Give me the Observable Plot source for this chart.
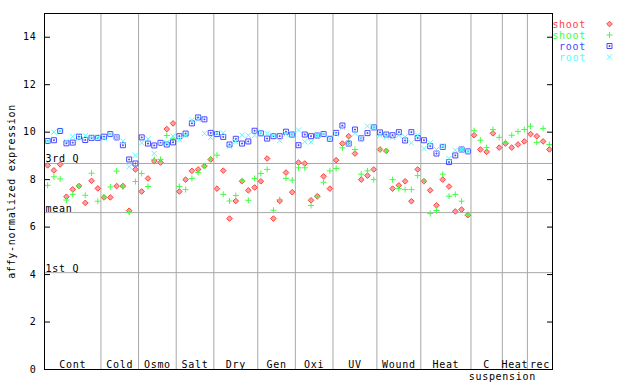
<!DOCTYPE html>
<html><head><meta charset="utf-8">
<script src="https://cdn.jsdelivr.net/npm/d3@7"></script>
<script src="https://cdn.jsdelivr.net/npm/@observablehq/plot@0.6"></script>
<style>
html,body{margin:0;padding:0;background:#fff;}
#chart svg{display:block;}
#chart svg text{letter-spacing:0.7px;}
</style></head><body><div id="chart"></div>
<script>
// ---- data ----
const groups = ["Cont","Cold","Osmo","Salt","Dry","Gen","Oxi","UV","Wound","Heat","C","Heat","rec"];
const groupSizes = [9,6,6,6,7,6,6,7,7,8,5,4,4];
const secondLineLabel = "suspension";   // second line under the "C" group, centred on its right boundary
const secondLineAfterGroup = 10;
const yTicks = [0,2,4,6,8,10,12,14];
const refNames = ["3rd Q","mean","1st Q"];
const refValues = [8.68, 6.61, 4.08];
const yLabel = "affy-normalized expression";

const shootRed = [8.60, 8.39, 8.64, 7.28, 7.59, 7.73, 7.02, 7.95, 7.63,
  7.25, 7.25, 7.73, 7.73, 6.69, 8.43,
  7.50, 8.05, 8.78, 8.72, 10.13, 10.37,
  7.50, 8.00, 8.37, 8.43, 8.57, 8.85,
  7.62, 8.38, 6.36, 7.10, 7.93, 7.55, 7.67,
  7.93, 8.89, 6.36, 7.10, 8.30, 7.47,
  8.72, 8.68, 7.13, 7.30, 8.14, 7.62,
  8.82, 9.52, 9.83, 9.10, 8.00, 8.17, 8.43,
  9.27, 9.21, 7.62, 7.76, 7.93, 7.09, 8.43,
  7.93, 7.55, 6.92, 8.00, 7.71, 6.66, 6.74, 6.50,
  9.87, 9.27, 9.17, 9.95, 9.35,
  9.52, 9.35, 9.48, 9.61,
  9.92, 9.83, 9.61, 9.27];
const shootGreen = [7.76, 8.12, 8.03, 7.14, 7.38, 7.72, 7.34, 8.27, 7.09,
  7.27, 7.69, 8.36, 7.69, 6.62, 7.92,
  8.26, 7.71, 8.85, 8.85, 9.86, 9.72,
  7.71, 7.58, 8.05, 8.30, 8.58, 8.86,
  9.03, 7.38, 7.10, 7.33, 7.95, 7.13, 8.05,
  8.26, 8.43, 6.71, 7.16, 8.05, 7.98,
  8.50, 8.50, 6.91, 7.27, 7.89, 8.37,
  8.47, 9.34, 9.60, 9.27, 8.23, 8.37, 8.00,
  9.27, 9.20, 8.00, 7.62, 7.58, 7.58, 8.17,
  7.93, 6.57, 6.70, 8.23, 7.30, 7.38, 7.09, 6.54,
  10.06, 9.66, 9.35, 10.11, 9.78,
  9.57, 9.87, 10.03, 10.11,
  10.25, 9.57, 10.16, 9.48];
const rootBlue = [9.63, 9.66, 10.05, 9.53, 9.56, 9.81, 9.67, 9.76, 9.76,
  9.81, 9.92, 9.78, 9.45, 8.85, 8.68,
  9.78, 9.52, 9.44, 9.55, 9.48, 9.57,
  9.83, 9.94, 10.37, 10.62, 10.54, 9.97,
  9.92, 9.80, 9.48, 9.72, 9.52, 9.61, 10.06,
  9.95, 9.73, 9.83, 9.83, 10.02, 9.90,
  9.45, 9.90, 9.83, 9.86, 9.92, 9.72,
  9.97, 10.28, 9.52, 10.11, 9.74, 9.96, 10.20,
  9.99, 9.90, 9.87, 10.00, 9.65, 10.00, 9.75,
  9.66, 9.41, 9.10, 9.38, 8.74, 9.02, 9.27, 9.19];
const rootCyan = [9.62, 10.00, 10.05, 9.62, 9.82, 9.75, 9.85, 9.80, 9.78,
  9.75, 9.92, 9.78, 9.62, 8.55, 9.03,
  9.55, 9.72, 9.10, 9.52, 9.56, 9.83,
  9.69, 9.87, 10.51, 10.54, 9.95, 9.78,
  9.95, 9.97, 9.41, 9.60, 9.87, 9.87, 9.87,
  9.97, 9.95, 9.87, 9.64, 9.92, 9.90,
  10.09, 9.60, 9.59, 9.86, 9.92, 9.72,
  9.93, 10.20, 9.52, 9.95, 9.73, 10.25, 10.20,
  9.87, 9.80, 9.78, 9.87, 9.80, 9.55, 9.87,
  9.31, 9.55, 9.27, 9.41, 8.89, 9.24, 9.27, 9.19];

const legendNames = ["shoot","shoot","root","root"];

// ---- derived tables ----
const N = d3.sum(groupSizes);
const starts = []; let acc = 0;
for (const s of groupSizes) { starts.push(acc); acc += s; }
const boundaries = starts.slice(1);
const groupLabels = groups.map((g, k) => ({name: g, center: starts[k] + groupSizes[k] / 2}));
const secondLine = [{name: secondLineLabel, at: starts[secondLineAfterGroup + 1]}];
const refs = refNames.map((n, k) => ({name: n, value: refValues[k]}));
const pts = arr => arr.map((v, i) => ({x: i + 0.5, y: v}));

// ---- symbols ----
const symDiamond = {draw(c){ const r = 2.8; c.moveTo(0,-r); c.lineTo(r,0); c.lineTo(0,r); c.lineTo(-r,0); c.closePath(); }};
const symPlus = {draw(c){ const r = 3; c.moveTo(-r,0); c.lineTo(r,0); c.moveTo(0,-r); c.lineTo(0,r); }};
const symSquare = {draw(c){ const r = 2.5; c.moveTo(-r,-r); c.lineTo(r,-r); c.lineTo(r,r); c.lineTo(-r,r); c.closePath(); c.moveTo(-0.5,-0.5); c.lineTo(0.5,-0.5); c.lineTo(0.5,0.5); c.lineTo(-0.5,0.5); c.closePath(); }};
const symTimes = {draw(c){ const r = 2.6; c.moveTo(-r,-r); c.lineTo(r,r); c.moveTo(-r,r); c.lineTo(r,-r); }};

const series = [
  {data: shootRed, sym: symDiamond, stroke: "#ff4040", fill: "#ffa0a0"},
  {data: shootGreen, sym: symPlus, stroke: "#40ff40", fill: "none"},
  {data: rootBlue, sym: symSquare, stroke: "#4848ff", fill: "none"},
  {data: rootCyan, sym: symTimes, stroke: "#50ffff", fill: "none"}
];

const grid = "#a8a8a8";
const chart = Plot.plot({
  width: 640, height: 384,
  marginLeft: 44, marginRight: 88, marginTop: 13, marginBottom: 15,
  x: {domain: [0, N], axis: null},
  y: {domain: [0, 15], axis: null},
  style: {fontFamily: "DejaVu Sans Mono", fontSize: "10px", background: "white", color: "black", overflow: "visible"},
  marks: [
    Plot.ruleX(boundaries, {stroke: grid, strokeWidth: 1}),
    Plot.ruleY(refs, {y: "value", stroke: grid, strokeWidth: 1}),
    Plot.text(refs, {y: "value", text: "name", frameAnchor: "left", textAnchor: "start", lineAnchor: "bottom", dx: 1, dy: -1, fill: "black"}),
    Plot.text(groupLabels, {x: "center", text: "name", frameAnchor: "bottom", lineAnchor: "bottom", dy: -2, fill: "black"}),
    Plot.text(secondLine, {x: "at", text: "name", frameAnchor: "bottom", lineAnchor: "top", dy: 3, fill: "black"}),
    ...series.map(s => Plot.dot(pts(s.data), {x: "x", y: "y", symbol: s.sym, stroke: s.stroke, fill: s.fill, strokeWidth: 1})),
    Plot.axisY(yTicks, {anchor: "left", tickSize: -6, tickPadding: 14, label: null, stroke: "black", fill: "black"}),
    Plot.axisY(yTicks, {anchor: "right", tickSize: -6, tickFormat: () => "", label: null, stroke: "black"}),
    Plot.text([yLabel], {text: d => d, frameAnchor: "left", rotate: -90, dx: -30, lineAnchor: "bottom", textAnchor: "middle", fill: "black"}),
    Plot.frame({stroke: "black", strokeWidth: 1})
  ]
});
document.getElementById("chart").appendChild(chart);

// ---- legend (right side) ----
const svg = d3.select(chart);
const lg = svg.append("g").attr("font-family", "DejaVu Sans Mono").attr("font-size", 10);
series.forEach((s, k) => {
  const cy = 24 + k * 11;
  lg.append("text").attr("x", 586).attr("y", cy + 3.5).attr("text-anchor", "end")
    .attr("fill", s.stroke).text(legendNames[k]);
  lg.append("path").attr("transform", `translate(609.5,${cy})`)
    .attr("d", d3.symbol(s.sym)()).attr("stroke", s.stroke).attr("fill", s.fill);
});
</script></body></html>
